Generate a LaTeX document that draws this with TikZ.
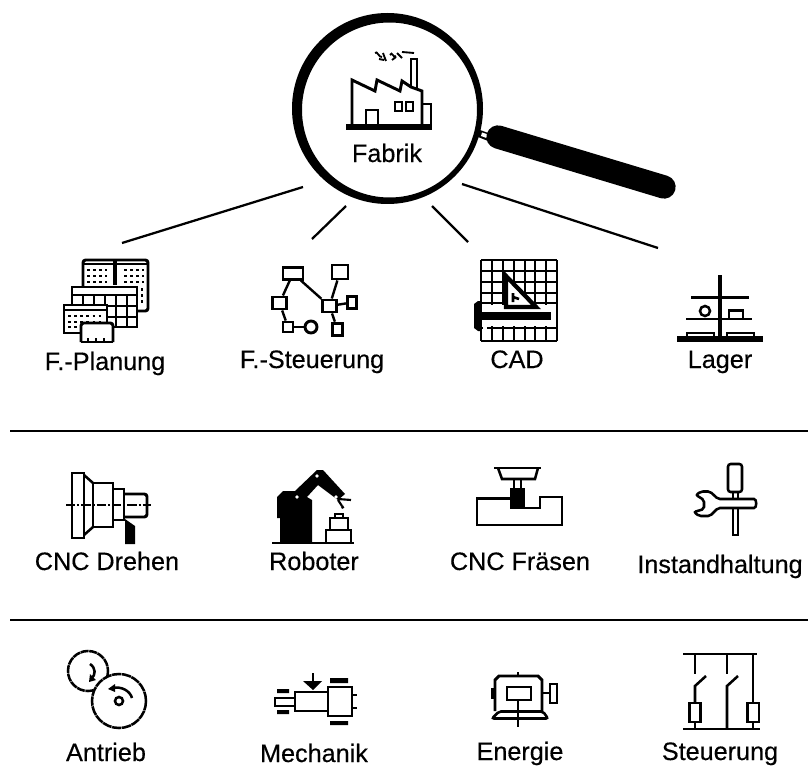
\documentclass[tikz,border=0pt]{standalone}
\usepackage{fontspec}
\setmainfont{Liberation Sans}[FakeBold=0.35]
\usetikzlibrary{arrows.meta}
\tikzset{
  ink/.style={line width=2.2pt,line join=miter,line cap=butt},
  thin ink/.style={line width=1.9pt},
  spoke/.style={line width=1.7pt},
  rule/.style={line width=2.2pt},
  lbl/.style={anchor=base,inner sep=0pt,font=\fontsize{18.9pt}{22pt}\selectfont},
  box/.style={draw,ink,fill=white,inner sep=0pt,rectangle},
  link/.style={line width=1.8pt},
  dots/.style={line width=2pt,dash pattern=on 2pt off 2.6pt},
}
\begin{document}
\begin{tikzpicture}[x=.75pt,y=-.75pt]
\useasboundingbox (0,0) rectangle (808,767);
\fill[white] (0,0) rectangle (808,767);
%% magnifier
\fill[black,line cap=round] (480,130) -- (491,134) -- (488,141) -- (478,137) -- cycle;
\fill[white] (482,132.5) -- (488,134.5) -- (486.5,138) -- (481,136) -- cycle;
\draw[line width=17.5pt,line cap=round] (498,137) -- (664,187);
\fill[even odd rule] (387.5,108.5) circle (95.5) (389.5,110) circle (87.5);
\coordinate (mag) at (388,108);
%% spokes
\coordinate (s1a) at (303,187); \coordinate (s1b) at (122,243);
\coordinate (s2a) at (346,206); \coordinate (s2b) at (312,239);
\coordinate (s3a) at (432,206); \coordinate (s3b) at (468,242);
\coordinate (s4a) at (462,184); \coordinate (s4b) at (658,248);
\draw[spoke] (s1a) -- (s1b);
\draw[spoke] (s2a) -- (s2b);
\draw[spoke] (s3a) -- (s3b);
\draw[spoke] (s4a) -- (s4b);
%% rules
\coordinate (r1a) at (10,431); \coordinate (r1b) at (808,431);
\coordinate (r2a) at (10,620); \coordinate (r2b) at (808,620);
\draw[rule] (r1a) -- (r1b);
\draw[rule] (r2a) -- (r2b);
%% labels
\node[lbl] (lFabrik) at (387,162) {Fabrik};
\node[lbl] (lPlan) at (105,370) {F.-Planung};
\node[lbl] (lSteu) at (312,368) {F.-Steuerung};
\node[lbl] (lCAD) at (517,368) {CAD};
\node[lbl] (lLager) at (720,368) {Lager};
\node[lbl] (lDreh) at (107,570) {CNC Drehen};
\node[lbl] (lRob) at (314,570) {Roboter};
\node[lbl] (lFraes) at (520,570) {CNC Fräsen};
\node[lbl] (lInst) at (720,573) {Instandhaltung};
\node[lbl] (lAntr) at (106,761) {Antrieb};
\node[lbl] (lMech) at (314,762) {Mechanik};
\node[lbl] (lEner) at (520,760) {Energie};
\node[lbl] (lSteuer) at (720,760) {Steuerung};
%% Fabrik icon
\draw[line width=3.8pt] (346,127) -- (432,127);
\draw[ink] (352,126) -- (352,80) -- (375,91) -- (377,80) -- (400,91) -- (402,81) -- (411,87) -- (422,91) -- (422,126);
\draw[ink] (422,104) -- (431,104) -- (431,126);
\draw[ink] (411,87) -- (411,59) -- (417,59) -- (417,89);
\draw[ink] (366,126) -- (366,110) -- (378,110) -- (378,126);
\draw[thin ink] (395,102) rectangle (402,111) (406,102) rectangle (413,111);
\draw[line width=1.4pt] (375,53) .. controls (377,50) and (379,58) .. (382,57) (383,53) -- (386,61) (390,55) .. controls (392,50) and (394,60) .. (396,56) (397,53) -- (402,58) (402,52) -- (414,53) (379,59) -- (384,60) (392,60) -- (396,57);
%% F.-Planung icon
\draw[ink,rounded corners=2pt,fill=white] (83,311) -- (83,260) -- (148,260) -- (148,311) -- cycle;
\draw[thin ink] (83,264) -- (148,264);
\draw[line width=3pt] (115,260) -- (115,285);
\foreach \y in {270,276,282}{
  \draw[dots] (87,\y) -- (107,\y);
  \draw[dots] (124,\y) -- (144,\y);
}
\draw[dots] (142,288) -- (142,305);
\draw[ink,fill=white] (72,287) rectangle (137,327);
\draw[thin ink] (72,295) -- (137,295) (72,306) -- (137,306) (72,317) -- (137,317);
\foreach \x in {83,94,105,116,127}{\draw[thin ink] (\x,295) -- (\x,327);}
\draw[ink,fill=white] (64,305) rectangle (107,333);
\draw[thin ink] (64,310) -- (107,310);
\foreach \y in {316,322}{\draw[dots] (68,\y) -- (104,\y);}
\draw[dots] (68,327) -- (78,327);
\draw[ink,fill=white,rounded corners=2pt] (81,342) -- (81,323) -- (113,323) -- (113,342);
\draw[thin ink] (81,342) -- (113,342) (88,338) -- (88,342) (96,338) -- (96,342) (104,338) -- (104,342);
%% F.-Steuerung graph
\node[box,minimum width=15pt,minimum height=8.5pt] (nA) at (293,273.5) {};
\node[box,minimum width=12pt,minimum height=10.5pt] (nB) at (340,272) {};
\node[box,minimum width=11pt,minimum height=9pt] (nC) at (279.5,303) {};
\node[box,minimum width=10pt,minimum height=9pt] (nD) at (329.5,306) {};
\node[box,minimum width=6.5pt,minimum height=8.5pt] (nE) at (352,302.5) {};
\node[box,minimum width=7.5pt,minimum height=7.5pt] (nF) at (288,327) {};
\node[draw,ink,circle,fill=white,inner sep=0pt,minimum size=9pt] (nG) at (311,327) {};
\node[box,minimum width=8pt,minimum height=9.5pt] (nH) at (337.5,329.5) {};
\draw[link] (nA) -- (nC);
\draw[link] (nA) -- (nD);
\draw[link] (nB) -- (nD);
\draw[link] (nD) -- (nE);
\draw[link] (nD) -- (nH);
\draw[link] (nC) -- (nF);
\draw[link] (nF) -- (nG);
%% CAD icon
\foreach \x in {481,492,503,514,525,535,546,557}{\draw[thin ink] (\x,260) -- (\x,341);}
\foreach \y in {260,271,282,293,303,328,341}{\draw[thin ink] (481,\y) -- (557,\y);}
\fill[white] (483,304.5) rectangle (555,326.5);
\draw[thin ink] (486,303) -- (500,303);
\fill[white] (483,304) rectangle (487,340);
\draw[thin ink] (487,328) -- (557,328) (492,326) -- (492,341) (503,326) -- (503,341) (514,326) -- (514,341) (525,326) -- (525,341) (535,326) -- (535,341) (546,326) -- (546,341);
\draw[line width=3.2pt,fill=white,miter limit=5] (506,276) -- (506,307) -- (536,307) -- cycle;
\draw[thin ink] (513,293) -- (513,302) (513,297) -- (519,299);
\draw[line width=5.4pt] (478,316) -- (551,316);
\fill (474,304) -- (478,301) -- (481,301) -- (481,331) -- (478,331) -- (474,328) -- cycle;
%% Lager icon
\draw[line width=3.6pt] (720,275) -- (720,337);
\draw[thin ink] (691,297.5) -- (749,297.5);
\draw[thin ink] (686,319) -- (752,319);
\draw[line width=3.8pt] (677,339) -- (763,339);
\draw[thin ink] (705,311) circle (5);
\draw[thin ink] (729,319) -- (729,310.5) -- (743,310.5) -- (743,319);
\draw[thin ink] (687,339) -- (687,333) -- (714,333) -- (714,339);
\draw[thin ink] (727,339) -- (727,333) -- (754,333) -- (754,339);
%% CNC Drehen icon
\draw[ink] (72,473) rectangle (84,538);
\draw[thin ink] (84,475) -- (93,483) (84,535) -- (93,527);
\draw[ink] (93,483) rectangle (113,527);
\draw[ink] (113,489) rectangle (124,520);
\draw[ink,rounded corners=2pt] (124,494) -- (147,494) -- (147,517) -- (124,517);
\draw[line width=2pt,dash pattern=on 7pt off 1.5pt on 1.5pt off 1.5pt] (66,505) -- (151,505);
\fill (125,519) -- (135,526) -- (135,544) -- (125,544) -- cycle;
%% Roboter icon
\fill (277,497) -- (283,491) -- (295,491) -- (317,470) -- (323,470) -- (345,494) -- (338,500) -- (318,485) -- (307,497) -- (312,500) -- (312,542) -- (280,542) -- (280,518) -- (277,518) -- cycle;
\fill[white] (297,497) circle (1.8) (317,476) circle (1.8) (336,497) circle (1.8);
\draw[ink] (272,543) -- (354,543);
\draw[line width=1.6pt] (338,499) -- (351,500) (338,500) -- (342,506);
\draw[dots] (342,506) -- (344,510);
\draw[thin ink,fill=white] (326,530) rectangle (351,543);
\draw[thin ink,fill=white] (330,518) rectangle (348,530);
\draw[thin ink,fill=white] (335,514) rectangle (343,518);
%% CNC Fraesen icon
\draw[ink] (494,468) -- (541,468);
\draw[thin ink] (498,468) -- (502,479) -- (535,479) -- (538,468);
\draw[thin ink] (514,479) -- (514,488) (521,479) -- (521,488);
\fill (510,488) rectangle (525,508.5);
\draw[ink] (510,498.5) -- (477,498.5) -- (477,525) -- (562,525) -- (562,497) -- (540,497) -- (540,508) -- (525,508);
%% Instandhaltung icon
\draw[thin ink,fill=white,rounded corners=2pt] (728,492) -- (728,464) -- (742,464) -- (742,492) -- cycle;
\draw[thin ink] (733,492) -- (733,499) (738,492) -- (738,499);
\draw[thin ink,fill=white,rounded corners=1.5pt] (696,495) -- (701,491.5) -- (710,491.5) -- (718,499) -- (752,499) .. controls (757,499) and (757,508) .. (752,508) -- (718,508) -- (710,516) -- (699,516) -- (694,512) -- (704,509) -- (704,500) -- cycle;
\draw[thin ink] (733,508) -- (733,535) -- (738,535) -- (738,508);
%% Antrieb icon
\draw[thin ink,dash pattern=on 6pt off .5pt] (88,671) circle (20);
\draw[thin ink,fill=white,dash pattern=on 7pt off .5pt] (119,701) circle (27);
\draw[thin ink] (119,701) circle (4);
\draw[thin ink] (90,664) .. controls (96,668) and (96,675) .. (91,679);
\fill (89,682) -- (90,674) -- (96,680) -- cycle;
\draw[thin ink] (132,698) .. controls (130,691) and (122,686) .. (112,688);
\fill (108,689) -- (115,684) -- (115,692) -- cycle;
%% Mechanik icon
\draw[thin ink] (313,673) -- (313,686);
\fill (303,681) -- (322,681) -- (313,690) -- cycle;
\draw[thin ink] (295,692) rectangle (328,711);
\draw[ink] (328,687) rectangle (352,716);
\draw[thin ink] (352,695) -- (357,695) (352,708) -- (357,708);
\fill (330,678) rectangle (348,683) (330,721) rectangle (348,725);
\fill (277,689) rectangle (289,693) (277,710) rectangle (289,714);
\draw[thin ink] (275,698) rectangle (295,706);
%% Energie icon
\draw[thin ink] (518,672) -- (518,676);
\draw[ink] (495,711) -- (495,680) -- (499,676) -- (538,676) -- (542,680) -- (542,711);
\draw[ink] (507,687) rectangle (531,700);
\draw[thin ink,rounded corners=1.5pt] (499,711.5) -- (492,718.5) -- (548,718.5) -- (543,711.5) -- cycle;
\draw[ink] (518,700) -- (518,727);
\fill (490.5,688) rectangle (494,699);
\draw[ink] (542,693) -- (550,693);
\draw[thin ink] (550,684) rectangle (557,703);
%% Steuerung icon
\draw[thin ink] (683,654) -- (757,654);
\draw[thin ink] (683,729) -- (760,729);
\draw[thin ink] (695,654) -- (695,674);
\draw[thin ink] (695,703) -- (695,686) -- (706,676);
\draw[thin ink] (727,654) -- (727,674);
\draw[thin ink] (727,729) -- (727,686) -- (738,676);
\draw[thin ink] (753,654) -- (753,703);
\draw[thin ink] (689.5,703) rectangle (700.5,722);
\draw[thin ink] (747.5,703) rectangle (759,722);
\draw[thin ink] (695,722) -- (695,729) (753,722) -- (753,729);
\end{tikzpicture}
\end{document}
